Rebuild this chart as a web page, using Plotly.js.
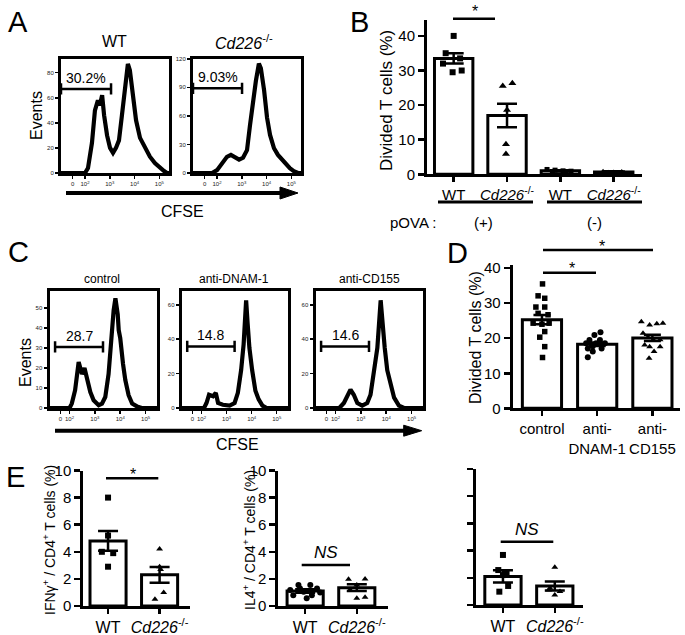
<!DOCTYPE html>
<html><head><meta charset="utf-8">
<script src="https://cdn.plot.ly/plotly-3.0.1.min.js"></script>
<style>html,body{margin:0;padding:0;background:#fff}#chart{width:685px;height:635px}</style>
</head><body><div id="chart"></div>
<script>
// ================= DATA =================
// Histogram x values are log10(CFSE) display units; y values are events.
const histTickText = ['0','10<sup>2</sup>','10<sup>3</sup>','10<sup>4</sup>','10<sup>5</sup>'];
const histTickValsA = [1.5, 2, 3, 4, 5];
const histTickValsC = [1.64, 2, 3, 4, 5];

// Panel A
const aWT_x = [1.03,1.9,2.00,2.12,2.28,2.40,2.52,2.60,2.69,2.77,2.89,3.01,3.13,3.25,3.37,3.49,3.61,3.73,3.81,3.94,4.06,4.22,4.42,4.62,4.82,5.02,5.19,5.31,5.39];
const aWT_y = [0,0,0,4,24,50,58,54,62,46,30,20,16,20,26,46,70,87,82,58,42,28,20,13,8,4,1.6,0,0];
const aKO_x = [1.03,1.80,2.00,2.20,2.40,2.56,2.73,2.89,3.05,3.21,3.33,3.45,3.57,3.69,3.77,3.90,4.02,4.14,4.30,4.46,4.62,4.78,4.94,5.10,5.27,5.39];
const aKO_y = [0,0,3,10,17,19,16,14,16,24,50,76,97,115,110,87,58,40,26,19,14,9,5,2,0,0];
const aGateWT = [1.03, 3.05, 67];   // from, to, level
const aGateKO = [1.03, 3.01, 89];
const aGateText = ['30.2%', '9.03%'];
const aTitles = ['WT', '<i>Cd226</i><sup>-/-</sup>'];

// Panel B
const bCats = ['WT', '<i>Cd226</i><sup>-/-</sup>', 'WT', '<i>Cd226</i><sup>-/-</sup>'];
const bMean = [33.5, 17.0, 1.0, 0.7];
const bSem  = [1.5, 3.4, 0.2, 0.15];
const bPts0 = [40, 35, 33.5, 32, 30, 29.5];
const bPts1 = [26.3, 25.5, 18.6, 8.7, 5.9];
const bPts2 = [1.4, 1.2, 1.0, 0.9, 0.8, 0.7];
const bPts3 = [0.9, 0.8, 0.7, 0.6, 0.5];
const bYTicks = [0, 10, 20, 30, 40];

// Panel C
const cTitles = ['control', 'anti-DNAM-1', 'anti-CD155'];
const c1_x = [1.21,2.0,2.09,2.22,2.36,2.49,2.59,2.71,2.82,2.95,3.15,3.28,3.41,3.54,3.64,3.74,3.81,3.90,3.94,4.00,4.11,4.20,4.33,4.47,4.66,4.85,5.45];
const c1_y = [0,0,2.2,8.9,23,17,20,14,8,3.9,1.4,2.2,5.5,17,34,49,55,47,39,35,22,14,6.4,2.2,0.8,0,0];
const c2_x = [1.21,2.1,2.2,2.3,2.46,2.57,2.66,2.85,3.12,3.32,3.45,3.58,3.68,3.78,3.84,3.91,4.02,4.15,4.28,4.43,4.6,5.45];
const c2_y = [0,0,2.9,7.7,6.8,8.8,2.9,1.9,1.4,2.9,8.8,22,37,62.6,49,35,22,10,5,1.4,0,0];
const c3_x = [1.21,2.15,2.33,2.46,2.59,2.72,2.86,3.05,3.25,3.38,3.51,3.65,3.78,3.86,3.94,4.04,4.17,4.31,4.5,4.7,5.45];
const c3_y = [0,0,2.9,6.8,10.7,7.7,2.9,1.4,2.9,7.7,20,35,62.6,47,35,22,13,6,1.4,0,0];
const cGate1 = [1.43, 3.32, 30.6];
const cGate2 = [1.43, 3.32, 35.8];
const cGate3 = [1.43, 3.32, 35.8];
const cGateText = ['28.7', '14.8', '14.6'];

// Panel D
const dCats = ['control', 'anti-<br>DNAM-1', 'anti-<br>CD155'];
const dMean = [25.3, 18.3, 20.1];
const dSem  = [1.3, 0.5, 0.9];
const dPts0 = [35.5,32.1,31.4,28.9,28.9,27.1,26.7,24.3,24.0,24.3,21.9,20.3,17.6,14.5];
const dPts1 = [21.7,20.9,19.5,19.5,18.6,18.6,17.7,18.6,17.1,17.1,16.2,14.6];
const dPts2 = [24.7,23.8,24.1,24.3,21.4,20.3,19.5,19.6,18.1,17.6,17.6,16.2,14.3];
const dYTicks = [0, 10, 20, 30, 40];

// Panel E
const eCats = ['WT', '<i>Cd226</i><sup>-/-</sup>'];
const e1Mean = [4.8, 2.3],  e1Sem = [0.73, 0.58];
const e1Pts0 = [8.0, 5.2, 4.0, 3.9, 2.9];
const e1Pts1 = [4.2, 2.9, 2.7, 1.0, 0.5];
const e2Mean = [1.1, 1.35], e2Sem = [0.13, 0.25];
const e2Pts0 = [1.55,1.55,1.18,1.3,1.05,0.8,0.57,1.0,1.3,0.8];
const e2Pts1 = [1.97,2.0,1.55,1.2,0.57,0.64];
const e3Mean = [2.1, 1.4],  e3Sem = [0.45, 0.33];
const e3Pts0 = [3.68,2.57,2.3,2.2,1.4,0.98];
const e3Pts1 = [2.77,1.23,0.74,1.0,1.1];
const eYTicks = [0, 2, 4, 6, 8, 10];

// horizontal scatter offsets of the dots inside each column (layout, not values)
const jB = [[0,-0.15,0.12,-0.2,0.15,-0.02],[0.1,-0.08,0,-0.02,-0.02],[-0.25,-0.1,0.05,0.2,-0.15,0.1],[-0.2,0.15,0,-0.1,0.2]];
const jD = [[0.01,-0.07,0.05,-0.11,0.05,-0.07,0.11,-0.16,0,0.13,0.05,-0.04,0.05,0.01],
            [0.06,-0.05,-0.14,0.05,-0.2,0.14,-0.08,-0.02,-0.17,0.08,-0.08,-0.17],
            [-0.2,-0.05,0.08,0.19,-0.17,-0.08,0.02,0.14,-0.14,-0.05,0.14,0.03,-0.06]];
const jE1 = [[0,0,-0.12,0.1,0],[0,0,0.02,0.08,-0.09]];
const jE2 = [[-0.13,0.1,-0.29,0.23,-0.03,-0.23,0.03,0.29,-0.1,0.13],[-0.16,0.16,0,-0.13,0,0.16]];
const jE3 = [[0,-0.09,0.07,0,0.1,-0.07],[0,-0.09,0,0.1,-0.12]];

// ================= LAYOUT HELPERS =================
const W = 685, H = 635;
const PX = v => v / W, PY = v => 1 - v / H;
const FONT = 'Liberation Sans, Arial, Helvetica, sans-serif';
const BLACK = '#000';
const traces = [];
const layout = {
  width: W, height: H, margin: {l:0, r:0, t:0, b:0},
  paper_bgcolor: '#fff', plot_bgcolor: 'rgba(0,0,0,0)',
  showlegend: false, font: {family: FONT, color: BLACK},
  annotations: [], shapes: []
};
function key(n){ return n === 1 ? '' : String(n); }
function histAxes(n, x0, x1, y0, y1, xr, yr, xtv, ytv){
  const common = {showline:true, mirror:true, linewidth:3, linecolor:BLACK, ticks:'outside', ticklen:3,
    tickwidth:1.5, tickcolor:BLACK, tickfont:{size:6, color:'#222', family:FONT}, showgrid:false, zeroline:false, fixedrange:true};
  layout['xaxis'+key(n)] = Object.assign({domain:[PX(x0),PX(x1)], range:xr, anchor:'y'+key(n), tickvals:xtv, ticktext:histTickText, tickmode:'array'}, common);
  layout['yaxis'+key(n)] = Object.assign({domain:[PY(y1),PY(y0)], range:yr, anchor:'x'+key(n), tickvals:ytv, tickmode:'array'}, common);
}
function barAxes(n, x0, x1, y0, y1, xr, yr, cats, ytv, showY, xfont){
  layout['xaxis'+key(n)] = {domain:[PX(x0),PX(x1)], range:xr, anchor:'y'+key(n), tickmode:'array',
    tickvals: cats.map((c,i)=>i), ticktext: cats, showline:true, linewidth:3, linecolor:BLACK,
    ticks:'outside', ticklen:5, tickwidth:2.5, tickcolor:BLACK, tickfont:{size:xfont, color:BLACK, family:FONT},
    showgrid:false, zeroline:false, fixedrange:true};
  layout['yaxis'+key(n)] = {domain:[PY(y1),PY(y0)], range:yr, anchor:'x'+key(n), tickmode:'array',
    tickvals: ytv, showticklabels: showY, showline:true, linewidth:3, linecolor:BLACK,
    ticks:'outside', ticklen:6, tickwidth:2.5, tickcolor:BLACK, tickfont:{size:15, color:BLACK, family:FONT},
    showgrid:false, zeroline:false, fixedrange:true};
}
function hist(n, xs, ys){
  traces.push({type:'scatter', mode:'lines', x:xs, y:ys, xaxis:'x'+key(n), yaxis:'y'+key(n),
    line:{color:BLACK, width:4.2}, hoverinfo:'skip', cliponaxis:true});
}
function gate(n, g, label, fs){
  traces.push({type:'scatter', mode:'lines+markers', x:[g[0], g[1]], y:[g[2], g[2]], xaxis:'x'+key(n), yaxis:'y'+key(n),
    line:{color:BLACK, width:2.5}, marker:{symbol:'line-ns-open', size:8, line:{color:BLACK, width:2.5}}, hoverinfo:'skip'});
  layout.annotations.push({xref:'x'+key(n), yref:'y'+key(n), x:(g[0]+g[1])/2, y:g[2], text:label, showarrow:false,
    yanchor:'bottom', yshift:1, font:{size:fs, family:FONT, color:BLACK}});
}
function bars(n, means, sems, width, cap){
  traces.push({type:'bar', x: means.map((m,i)=>i), y: means, width: width, xaxis:'x'+key(n), yaxis:'y'+key(n),
    marker:{color:'#fff', line:{color:BLACK, width:3}},
    error_y:{type:'data', array:sems, visible:true, color:BLACK, thickness:2.5, width:cap}, hoverinfo:'skip'});
}
function dots(n, idx, vals, jit, symbol, size){
  traces.push({type:'scatter', mode:'markers', x: vals.map((v,i)=>idx + jit[i]), y: vals, xaxis:'x'+key(n), yaxis:'y'+key(n),
    marker:{symbol:symbol, size:size, color:BLACK, line:{width:0}}, hoverinfo:'skip', cliponaxis:false});
}
function txt(x, y, text, size, opts){
  layout.annotations.push(Object.assign({xref:'paper', yref:'paper', x:PX(x), y:PY(y), text:text, showarrow:false,
    xanchor:'center', yanchor:'middle', font:{size:size, family:FONT, color:BLACK}}, opts||{}));
}
function hline(x0, x1, y, w){
  layout.shapes.push({type:'line', xref:'paper', yref:'paper', x0:PX(x0), x1:PX(x1), y0:PY(y), y1:PY(y), line:{color:BLACK, width:w}});
}
function arrow(x0, x1, y, hl, hw){
  hline(x0, x1 - hl + 1, y, 4);
  layout.shapes.push({type:'path', xref:'paper', yref:'paper', fillcolor:BLACK, line:{color:BLACK, width:1},
    path:`M ${PX(x1)} ${PY(y)} L ${PX(x1-hl)} ${PY(y-hw)} L ${PX(x1-hl)} ${PY(y+hw)} Z`});
}

// ================= PANEL A =================
histAxes(1, 61, 169, 58.5, 173, [1.03, 5.39], [0, 91.3], histTickValsA, [0,20,40,60,80]);
histAxes(2, 193, 301, 58.5, 173, [1.03, 5.39], [0, 120.3], histTickValsA, [0,30,60,90,120]);
hist(1, aWT_x, aWT_y);
hist(2, aKO_x, aKO_y);
gate(1, aGateWT, aGateText[0], 14);
gate(2, aGateKO, aGateText[1], 14);
txt(18, 22, 'A', 29);
txt(115, 42, aTitles[0], 16);
txt(244, 42, aTitles[1], 16);
txt(37, 116, 'Events', 16, {textangle:-90});
arrow(66, 298, 193, 18, 6);
txt(182, 211, 'CFSE', 16);

// ================= PANEL B =================
barAxes(3, 427, 642, 20, 174.3, [-0.5, 3.53], [0, 44.6], bCats, bYTicks, true, 15);
bars(3, bMean, bSem, 0.72, 10);
dots(3, 0, bPts0, jB[0], 'square', 6);
dots(3, 1, bPts1, jB[1], 'triangle-up', 7);
dots(3, 2, bPts2, jB[2], 'square', 5);
dots(3, 3, bPts3, jB[3], 'triangle-up', 5);
txt(359, 22, 'B', 29);
txt(387, 100, 'Divided T cells (%)', 17, {textangle:-90});
hline(453, 495, 18.7, 2.5);
txt(475, 11, '*', 16);
hline(438, 533, 202, 3);
hline(547, 642, 202, 3);
txt(413, 222, 'pOVA :', 15);
txt(483, 222, '(+)', 15);
txt(594, 222, '(-)', 15);

// ================= PANEL C =================
histAxes(4, 49.5, 157, 291, 408, [1.21, 5.45], [0, 58.6], histTickValsC, [0,10,20,30,40,50]);
histAxes(5, 181.7, 288, 291, 408, [1.21, 5.45], [0, 68], histTickValsC, [0,20,40,60]);
histAxes(6, 315.5, 423, 291, 408, [1.21, 5.45], [0, 68], histTickValsC, [0,20,40,60]);
hist(4, c1_x, c1_y); hist(5, c2_x, c2_y); hist(6, c3_x, c3_y);
gate(4, cGate1, cGateText[0], 14);
gate(5, cGate2, cGateText[1], 14);
gate(6, cGate3, cGateText[2], 14);
txt(18, 252, 'C', 29);
txt(102, 279, cTitles[0], 12);
txt(234, 279, cTitles[1], 12);
txt(369, 279, cTitles[2], 12);
txt(25, 362, 'Events', 16, {textangle:-90});
arrow(55, 421.7, 430.7, 18, 5.5);
txt(237, 444, 'CFSE', 16);

// ================= PANEL D =================
barAxes(7, 512.7, 680, 265, 408.3, [-0.53, 2.5], [0, 40.9], dCats, dYTicks, true, 15);
bars(7, dMean, dSem, 0.71, 8.5);
dots(7, 0, dPts0, jD[0], 'square', 5.5);
dots(7, 1, dPts1, jD[1], 'circle', 6);
dots(7, 2, dPts2, jD[2], 'triangle-up', 6);
txt(457, 253, 'D', 29);
txt(475, 338, 'Divided T cells (%)', 16, {textangle:-90});
hline(543, 653, 250, 2.5);
txt(602, 246, '*', 16);
hline(543, 596, 272.7, 2.5);
txt(572, 268, '*', 16);

// ================= PANEL E =================
barAxes(8, 83.3, 190, 470.5, 606, [-0.48, 1.59], [0, 10], eCats, eYTicks, true, 16);
barAxes(9, 278.3, 388.3, 470.5, 606, [-0.52, 1.61], [0, 10], eCats, eYTicks, true, 16);
barAxes(10, 476, 583.3, 469, 605, [-0.52, 1.55], [0, 10], eCats, eYTicks, false, 16);
bars(8, e1Mean, e1Sem, 0.7, 10);
bars(9, e2Mean, e2Sem, 0.7, 10);
bars(10, e3Mean, e3Sem, 0.7, 10);
dots(8, 0, e1Pts0, jE1[0], 'square', 6);
dots(8, 1, e1Pts1, jE1[1], 'triangle-up', 6);
dots(9, 0, e2Pts0, jE2[0], 'circle', 6);
dots(9, 1, e2Pts1, jE2[1], 'triangle-up', 6);
dots(10, 0, e3Pts0, jE3[0], 'square', 6);
dots(10, 1, e3Pts1, jE3[1], 'triangle-up', 6);
txt(15, 477, 'E', 29);
txt(49, 540, 'IFNγ<sup>+</sup> / CD4<sup>+</sup> T cells (%)', 14, {textangle:-90});
txt(249, 540, 'IL4<sup>+</sup> / CD4<sup>+</sup> T cells (%)', 14, {textangle:-90});
hline(106, 158.3, 478.3, 2.5);
txt(132.7, 474, '*', 16);
hline(301.7, 350, 565, 2.5);
txt(326, 552, '<i>NS</i>', 17);
hline(500.7, 553.3, 541.7, 2.5);
txt(526.7, 529, '<i>NS</i>', 17);

Plotly.newPlot('chart', traces, layout, {displayModeBar:false, staticPlot:true});
</script></body></html>
